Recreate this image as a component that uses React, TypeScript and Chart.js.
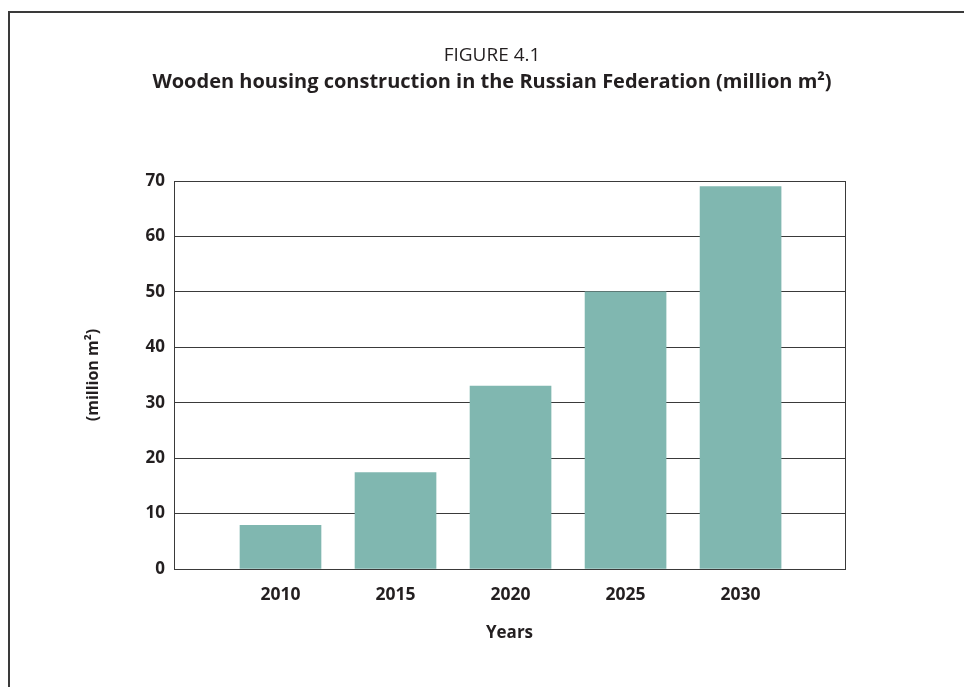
import React, { useEffect, useRef } from "react";
import { Chart, registerables } from "chart.js";

Chart.register(...registerables);

const years = [2010, 2015, 2020, 2025, 2030];
const values = [7.9, 17.4, 33, 50, 69];
const yTicks = [0, 10, 20, 30, 40, 50, 60, 70];
const titleText = "FIGURE 4.1";
const subtitleText = "Wooden housing construction in the Russian Federation (million m²)";
const xTitle = "Years";
const yTitle = "(million m²)";

const FONT = "'Open Sans', 'Noto Sans', sans-serif";
const TEXT = "#231f20";
const LINE = "#3a3a3a";

export default function App() {
  const ref = useRef<HTMLCanvasElement | null>(null);
  useEffect(() => {
    if (!ref.current) return;
    const chart = new Chart(ref.current, {
      type: "bar",
      data: {
        datasets: [
          {
            data: years.map((x, i) => ({ x, y: values[i] })),
            backgroundColor: "#80b7b0",
            borderWidth: 0,
            barThickness: 81,
          },
        ],
      },
      options: {
        animation: false,
        responsive: false,
        maintainAspectRatio: false,
        layout: { padding: { left: 20, right: 0, top: 0, bottom: 0 } },
        plugins: {
          legend: { display: false },
          tooltip: { enabled: false },
          title: {
            display: true,
            text: titleText,
            color: TEXT,
            font: { family: FONT, size: 19, weight: "normal", lineHeight: 1.2 },
            padding: { top: 44.1, bottom: 0 },
          },
          subtitle: {
            display: true,
            text: subtitleText,
            color: TEXT,
            font: { family: FONT, size: 20, weight: "bold", lineHeight: 1.2 },
            padding: { top: 3.1, bottom: 87 },
          },
        },
        scales: {
          x: {
            type: "linear",
            offset: false,
            min: 2005.37,
            max: 2034.54,
            afterBuildTicks: (s: any) => {
              s.ticks = years.map((v) => ({ value: v }));
            },
            afterFit: (s: any) => {
              s.height = 118;
            },
            grid: { display: false, drawTicks: false, offset: false },
            border: { display: true, color: LINE, width: 1 },
            ticks: {
              color: TEXT,
              padding: 16,
              font: { family: FONT, size: 17.5, weight: "bold" },
              callback: (v: any) => String(v),
            },
            title: {
              display: true,
              text: xTitle,
              color: TEXT,
              font: { family: FONT, size: 17, weight: "bold", lineHeight: 1.2 },
              padding: { top: 0, bottom: 43.8 },
            },
          },
          y: {
            type: "linear",
            position: "left",
            min: 0,
            max: 70,
            afterBuildTicks: (s: any) => {
              s.ticks = yTicks.map((v) => ({ value: v }));
            },
            afterFit: (s: any) => {
              s.width = 154;
            },
            grid: { color: LINE, lineWidth: 1, drawTicks: false },
            border: { display: true, color: LINE, width: 1 },
            ticks: {
              color: TEXT,
              padding: 9,
              font: { family: FONT, size: 17, weight: "bold" },
              callback: (v: any) => String(v),
            },
            title: {
              display: true,
              text: yTitle,
              color: TEXT,
              font: { family: FONT, size: 16, weight: "bold", lineHeight: 1.2 },
              padding: { top: 63.4, bottom: 0 },
            },
          },
          y2: {
            type: "linear",
            position: "right",
            min: 0,
            max: 70,
            afterFit: (s: any) => {
              s.width = 119;
            },
            grid: { drawOnChartArea: false, drawTicks: false },
            border: { display: true, color: LINE, width: 1 },
            ticks: { display: false },
          },
        },
      },
    });
    return () => chart.destroy();
  }, []);

  return (
    <div style={{ position: "absolute", left: 0, top: 0, width: 964, height: 687, overflow: "hidden", background: "#fff" }}>
      <div
        style={{
          position: "absolute",
          left: 8,
          top: 11,
          width: 964,
          height: 700,
          borderLeft: "2px solid #3a3a3a",
          borderTop: "2px solid #3a3a3a",
        }}
      />
      <canvas ref={ref} width={964} height={687} style={{ position: "absolute", left: 0, top: 0, width: 964, height: 687 }} />
    </div>
  );
}
